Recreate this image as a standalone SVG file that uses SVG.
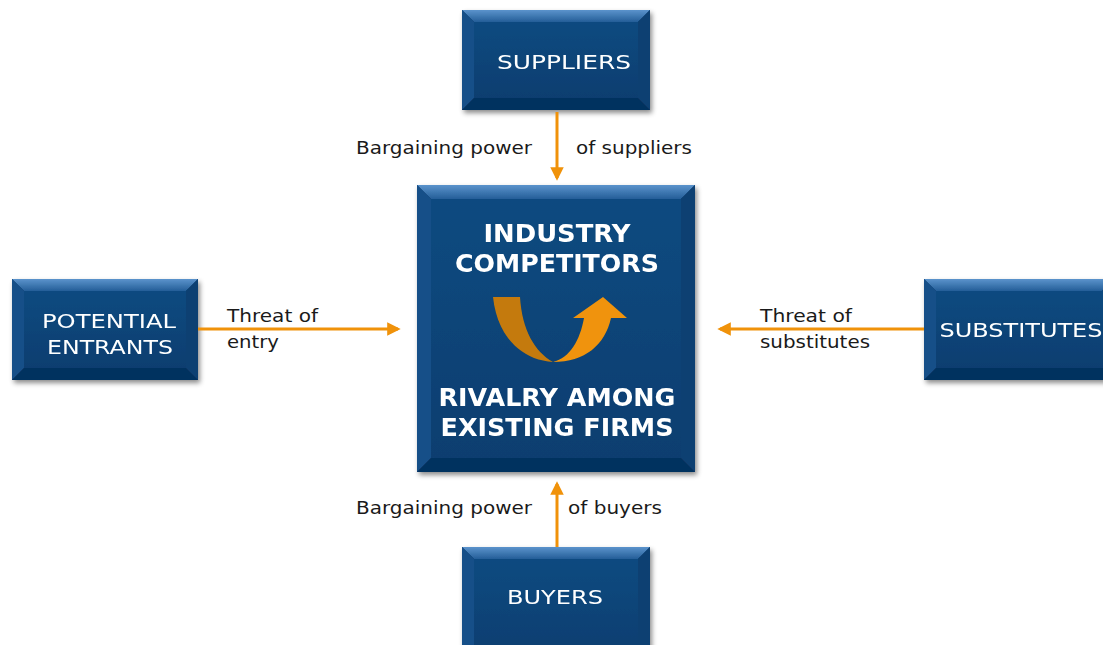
<svg xmlns="http://www.w3.org/2000/svg" width="1103" height="645" viewBox="0 0 1103 645">
  <style>
    .top{fill:url(#gTop)}
    .lft{fill:#164f88}
    .rgt{fill:#0b3f72}
    .bot{fill:#06335f}
    .face{fill:url(#gFace)}
    .bx{font-family:"DejaVu Sans",Verdana,sans-serif;font-size:20px;fill:#ffffff;text-anchor:middle}
    .big{font-family:"DejaVu Sans",Verdana,sans-serif;font-size:24px;font-weight:bold;fill:#ffffff;text-anchor:middle}
    .lbl{font-family:"DejaVu Sans",Verdana,sans-serif;font-size:18px;fill:#1a1a1a}
    .conn{stroke:#f0920a;stroke-width:3;fill:none}
  </style>
  <defs>
    <linearGradient id="gTop" x1="0" y1="0" x2="0" y2="1">
      <stop offset="0" stop-color="#5b93cc"/>
      <stop offset="1" stop-color="#245e98"/>
    </linearGradient>
    <linearGradient id="gFace" x1="0" y1="0" x2="0" y2="1">
      <stop offset="0" stop-color="#0d4a80"/>
      <stop offset="1" stop-color="#083e70"/>
    </linearGradient>
    <filter id="sh" x="-10%" y="-10%" width="125%" height="125%">
      <feDropShadow dx="2" dy="3" stdDeviation="2.5" flood-color="#000" flood-opacity="0.45"/>
    </filter>
    <marker id="ah" viewBox="0 0 10 10" refX="8" refY="5" markerWidth="4.5" markerHeight="4.5" orient="auto-start-reverse">
      <path d="M0,0 L10,5 L0,10 Z" fill="#f0920a"/>
    </marker>
  </defs>

  <!-- Suppliers -->
  <g id="suppliers" filter="url(#sh)">
    <rect x="462" y="10" width="188" height="100" class="bot"/>
    <polygon class="top" points="462,10 650,10 638,22 474,22"/>
    <polygon class="lft" points="462,10 474,22 474,98 462,110"/>
    <polygon class="rgt" points="650,10 650,110 638,98 638,22"/>
    <polygon class="bot" points="462,110 474,98 638,98 650,110"/>
    <rect x="474" y="22" width="164" height="76" class="face"/>
    <text class="bx" x="564" y="69" textLength="134" lengthAdjust="spacingAndGlyphs">SUPPLIERS</text>
  </g>

  <!-- Industry competitors -->
  <g id="competitors" filter="url(#sh)">
    <rect x="417" y="185" width="278" height="287" class="bot"/>
    <polygon class="top" points="417,185 695,185 681,199 431,199"/>
    <polygon class="lft" points="417,185 431,199 431,458 417,472"/>
    <polygon class="rgt" points="695,185 695,472 681,458 681,199"/>
    <polygon class="bot" points="417,472 431,458 681,458 695,472"/>
    <rect x="431" y="199" width="250" height="259" class="face"/>
    <text class="big" x="557" y="242" textLength="147" lengthAdjust="spacingAndGlyphs">INDUSTRY</text>
    <text class="big" x="557" y="272" textLength="204" lengthAdjust="spacingAndGlyphs">COMPETITORS</text>
    <path d="M493,297 L520,297 C522,330 535,352 553,362 C520,360 497,335 493,297 Z" fill="#c47a0c"/>
    <path d="M553,362 C570,358 580,340 584,318 L573,318 L603,297 L627,318 L611,318 C605,345 585,362 553,362 Z" fill="#f0930a"/>
    <text class="big" x="557" y="406" textLength="237" lengthAdjust="spacingAndGlyphs">RIVALRY AMONG</text>
    <text class="big" x="557" y="436" textLength="233" lengthAdjust="spacingAndGlyphs">EXISTING FIRMS</text>
  </g>

  <!-- Potential entrants -->
  <g id="entrants" filter="url(#sh)">
    <rect x="12" y="279" width="186" height="101" class="bot"/>
    <polygon class="top" points="12,279 198,279 186,291 24,291"/>
    <polygon class="lft" points="12,279 24,291 24,368 12,380"/>
    <polygon class="rgt" points="198,279 198,380 186,368 186,291"/>
    <polygon class="bot" points="12,380 24,368 186,368 198,380"/>
    <rect x="24" y="291" width="162" height="77" class="face"/>
    <text class="bx" x="109" y="328" textLength="134" lengthAdjust="spacingAndGlyphs">POTENTIAL</text>
    <text class="bx" x="110" y="354" textLength="126" lengthAdjust="spacingAndGlyphs">ENTRANTS</text>
  </g>

  <!-- Substitutes -->
  <g id="substitutes" filter="url(#sh)">
    <rect x="924" y="279" width="190" height="101" class="bot"/>
    <polygon class="top" points="924,279 1114,279 1102,291 936,291"/>
    <polygon class="lft" points="924,279 936,291 936,368 924,380"/>
    <polygon class="bot" points="924,380 936,368 1102,368 1114,380"/>
    <rect x="936" y="291" width="170" height="77" class="face"/>
    <text class="bx" x="1021" y="337" textLength="163" lengthAdjust="spacingAndGlyphs">SUBSTITUTES</text>
  </g>

  <!-- Buyers -->
  <g id="buyers" filter="url(#sh)">
    <rect x="462" y="547" width="188" height="110" class="bot"/>
    <polygon class="top" points="462,547 650,547 638,559 474,559"/>
    <polygon class="lft" points="462,547 474,559 474,657 462,657"/>
    <polygon class="rgt" points="650,547 650,657 638,657 638,559"/>
    <rect x="474" y="559" width="164" height="98" class="face"/>
    <text class="bx" x="555" y="604" textLength="96" lengthAdjust="spacingAndGlyphs">BUYERS</text>
  </g>

  <!-- Connectors -->
  <g id="connectors">
    <line class="conn" x1="557" y1="112" x2="557" y2="178" marker-end="url(#ah)"/>
    <line class="conn" x1="198" y1="329" x2="398" y2="329" marker-end="url(#ah)"/>
    <line class="conn" x1="924" y1="329" x2="720" y2="329" marker-end="url(#ah)"/>
    <line class="conn" x1="557" y1="547" x2="557" y2="484" marker-end="url(#ah)"/>
  </g>

  <!-- Force labels -->
  <g id="labels">
    <text class="lbl" x="356" y="154" textLength="176" lengthAdjust="spacingAndGlyphs">Bargaining power</text>
    <text class="lbl" x="576" y="154" textLength="116" lengthAdjust="spacingAndGlyphs">of suppliers</text>
    <text class="lbl" x="227" y="322" textLength="91" lengthAdjust="spacingAndGlyphs">Threat of</text>
    <text class="lbl" x="227" y="348" textLength="52" lengthAdjust="spacingAndGlyphs">entry</text>
    <text class="lbl" x="760" y="322" textLength="92" lengthAdjust="spacingAndGlyphs">Threat of</text>
    <text class="lbl" x="760" y="348" textLength="110" lengthAdjust="spacingAndGlyphs">substitutes</text>
    <text class="lbl" x="356" y="514" textLength="176" lengthAdjust="spacingAndGlyphs">Bargaining power</text>
    <text class="lbl" x="568" y="514" textLength="94" lengthAdjust="spacingAndGlyphs">of buyers</text>
  </g>
</svg>
